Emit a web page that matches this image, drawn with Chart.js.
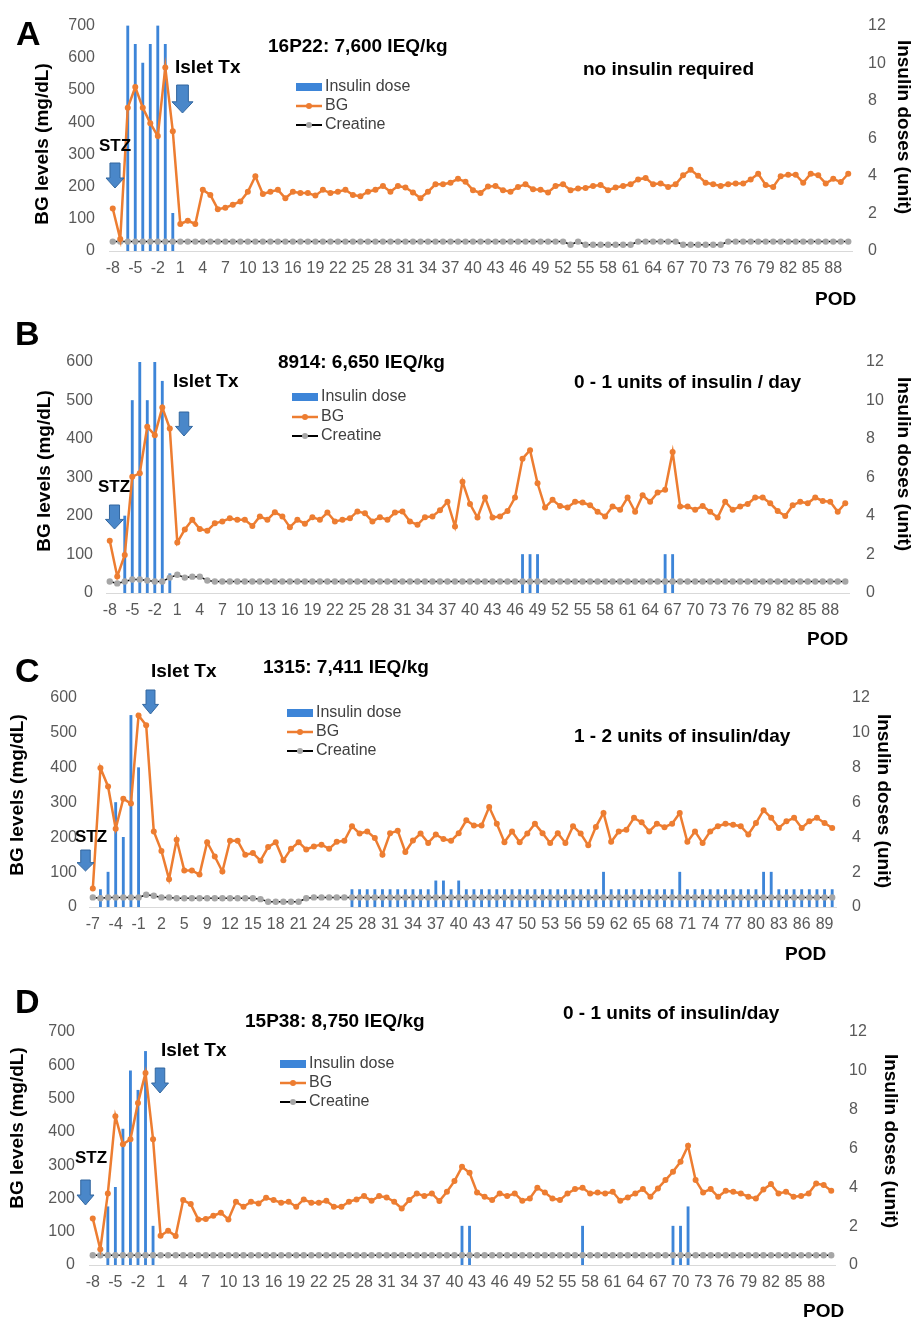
<!DOCTYPE html>
<html>
<head>
<meta charset="utf-8">
<script src="https://cdn.jsdelivr.net/npm/chart.js@4.4.1/dist/chart.umd.min.js"></script>
<style>
  html,body{margin:0;padding:0;background:#fff;}
  #wrap{position:relative;width:912px;height:1321px;overflow:hidden;}
  canvas{position:absolute;left:0;}
</style>
</head>
<body>
<div id="wrap">
  <canvas id="cA" width="912" height="320" style="top:0px"></canvas>
  <canvas id="cB" width="912" height="330" style="top:320px"></canvas>
  <canvas id="cC" width="912" height="325" style="top:650px"></canvas>
  <canvas id="cD" width="912" height="346" style="top:975px"></canvas>
</div>
<script>
// ---------- categories (post-operative day) ----------
const daysABD = [-8,-7,-6,-5,-4,-3,-2,-1,0,1,2,3,4,5,6,7,8,9,10,11,12,13,14,15,16,17,18,19,20,21,22,23,24,25,26,27,28,29,30,31,32,33,34,35,36,37,38,39,40,41,42,43,44,45,46,47,48,49,50,51,52,53,54,55,56,57,58,59,60,61,62,63,64,65,66,67,68,69,70,71,72,73,74,75,76,77,78,79,80,81,82,83,84,85,86,87,88,89,90];
const daysC = [-7,-6,-5,-4,-3,-2,-1,0,1,2,3,4,5,7,8,9,10,11,12,13,14,15,16,17,18,19,20,21,22,23,24,24,25,25,26,27,28,29,30,31,32,33,34,35,36,37,38,39,40,41,42,43,44,46,47,48,49,50,51,52,53,54,55,56,57,58,59,60,61,62,63,64,65,66,67,68,69,70,71,72,73,74,75,76,77,78,79,80,81,82,83,84,85,86,87,88,89,90];

// ---------- Panel A : 16P22 ----------
const bgA = [132,37,445,509,445,397,357,570,372,84,
  94,84,190,174,130,134,144,154,184,232,
  177,184,190,164,184,180,180,172,190,180,
  184,190,174,170,184,190,202,184,202,197,
  182,164,184,207,207,212,224,215,189,180,
  200,202,189,184,199,207,192,190,182,202,
  207,189,194,196,202,205,189,197,202,207,
  222,227,207,210,199,207,235,252,234,212,
  207,202,207,210,210,222,240,205,199,232,
  237,237,212,240,235,210,224,214,240];
const creA = [0.5,0.5,0.5,0.5,0.5,0.5,0.5,0.5,0.5,0.5,
  0.5,0.5,0.5,0.5,0.5,0.5,0.5,0.5,0.5,0.5,
  0.5,0.5,0.5,0.5,0.5,0.5,0.5,0.5,0.5,0.5,
  0.5,0.5,0.5,0.5,0.5,0.5,0.5,0.5,0.5,0.5,
  0.5,0.5,0.5,0.5,0.5,0.5,0.5,0.5,0.5,0.5,
  0.5,0.5,0.5,0.5,0.5,0.5,0.5,0.5,0.5,0.5,
  0.5,0.33,0.5,0.33,0.33,0.33,0.33,0.33,0.33,0.33,
  0.5,0.5,0.5,0.5,0.5,0.5,0.33,0.33,0.33,0.33,
  0.33,0.33,0.5,0.5,0.5,0.5,0.5,0.5,0.5,0.5,
  0.5,0.5,0.5,0.5,0.5,0.5,0.5,0.5,0.5];
const insDaysA = [-6,-5,-4,-3,-2,-1,0];
const insUnitsA = [12,11,10,11,12,11,2];

// ---------- Panel B : 8914 ----------
const bgB = [136,43,99,302,311,432,410,482,427,131,
  165,190,166,162,181,186,194,190,190,174,
  199,190,210,199,171,190,180,197,190,209,
  186,190,194,212,207,186,197,190,209,212,
  186,177,197,199,215,237,173,289,231,196,
  248,196,199,213,248,349,371,285,222,242,
  226,222,237,235,228,211,199,225,216,248,
  211,254,237,261,268,366,225,225,216,226,
  211,196,237,216,225,231,248,248,233,213,
  200,228,237,233,248,239,237,211,233];
const creB = [0.6,0.5,0.6,0.7,0.7,0.65,0.6,0.6,0.8,0.95,
  0.8,0.85,0.85,0.65,0.6,0.6,0.6,0.6,0.6,0.6,
  0.6,0.6,0.6,0.6,0.6,0.6,0.6,0.6,0.6,0.6,
  0.6,0.6,0.6,0.6,0.6,0.6,0.6,0.6,0.6,0.6,
  0.6,0.6,0.6,0.6,0.6,0.6,0.6,0.6,0.6,0.6,
  0.6,0.6,0.6,0.6,0.6,0.6,0.6,0.6,0.6,0.6,
  0.6,0.6,0.6,0.6,0.6,0.6,0.6,0.6,0.6,0.6,
  0.6,0.6,0.6,0.6,0.6,0.6,0.6,0.6,0.6,0.6,
  0.6,0.6,0.6,0.6,0.6,0.6,0.6,0.6,0.6,0.6,
  0.6,0.6,0.6,0.6,0.6,0.6,0.6,0.6,0.6];
const insDaysB = [-6,-5,-4,-3,-2,-1,0,47,48,49,66,67];
const insUnitsB = [4,10,12,10,12,11,1,2,2,2,2,2];

// ---------- Panel C : 1315 ----------
const bgC = [53,399,346,225,311,297,550,522,217,161,
  80,193,105,105,93,186,145,102,190,190,
  150,155,133,172,186,134,167,186,165,174,
  179,167,187,190,232,211,217,198,150,212,
  219,158,191,211,184,208,195,190,212,249,
  234,234,287,239,186,217,186,211,239,212,
  184,212,184,232,211,177,230,270,187,217,
  222,256,243,217,239,229,239,270,187,217,
  184,217,232,239,236,232,208,241,278,256,
  227,246,256,227,246,256,241,227];
const creC = [0.55,0.5,0.55,0.55,0.55,0.55,0.55,0.7,0.65,0.55,
  0.55,0.5,0.5,0.5,0.5,0.5,0.5,0.5,0.5,0.5,
  0.5,0.5,0.45,0.3,0.3,0.3,0.3,0.3,0.5,0.55,
  0.55,0.55,0.55,0.55,0.55,0.55,0.55,0.55,0.55,0.55,
  0.55,0.55,0.55,0.55,0.55,0.55,0.55,0.55,0.55,0.55,
  0.55,0.55,0.55,0.55,0.55,0.55,0.55,0.55,0.55,0.55,
  0.55,0.55,0.55,0.55,0.55,0.55,0.55,0.55,0.55,0.55,
  0.55,0.55,0.55,0.55,0.55,0.55,0.55,0.55,0.55,0.55,
  0.55,0.55,0.55,0.55,0.55,0.55,0.55,0.55,0.55,0.55,
  0.55,0.55,0.55,0.55,0.55,0.55,0.55,0.55];
const insC = [null,1,2,6,4,11,8,null,null,null,
  null,null,null,null,null,null,null,null,null,null,
  null,null,null,null,null,null,null,null,null,null,
  null,null,null,null,1,1,1,1,1,1,
  1,1,1,1,1,1.5,1.5,1,1.5,1,
  1,1,1,1,1,1,1,1,1,1,
  1,1,1,1,1,1,1,2,1,1,
  1,1,1,1,1,1,1,2,1,1,
  1,1,1,1,1,1,1,1,2,2,
  1,1,1,1,1,1,1,1];

// ---------- Panel D : 15P38 ----------
const bgD = [140,47,215,447,363,378,487,577,378,88,
  103,87,195,183,137,138,148,157,137,190,
  175,190,185,202,195,187,190,175,197,187,
  187,193,175,175,190,197,207,193,207,203,
  190,170,195,215,207,215,192,220,252,295,
  277,218,205,195,215,207,215,193,200,232,
  218,200,195,215,228,232,215,218,215,220,
  193,203,215,228,205,230,255,280,310,358,
  255,218,228,205,223,220,215,205,200,227,
  243,215,220,205,207,215,245,240,223];
const creD = [0.5,0.5,0.5,0.5,0.5,0.5,0.5,0.5,0.5,0.5,
  0.5,0.5,0.5,0.5,0.5,0.5,0.5,0.5,0.5,0.5,
  0.5,0.5,0.5,0.5,0.5,0.5,0.5,0.5,0.5,0.5,
  0.5,0.5,0.5,0.5,0.5,0.5,0.5,0.5,0.5,0.5,
  0.5,0.5,0.5,0.5,0.5,0.5,0.5,0.5,0.5,0.5,
  0.5,0.5,0.5,0.5,0.5,0.5,0.5,0.5,0.5,0.5,
  0.5,0.5,0.5,0.5,0.5,0.5,0.5,0.5,0.5,0.5,
  0.5,0.5,0.5,0.5,0.5,0.5,0.5,0.5,0.5,0.5,
  0.5,0.5,0.5,0.5,0.5,0.5,0.5,0.5,0.5,0.5,
  0.5,0.5,0.5,0.5,0.5,0.5,0.5,0.5,0.5];
const insDaysD = [-6,-5,-4,-3,-2,-1,0,41,42,57,69,70,71];
const insUnitsD = [3,4,7,10,9,11,2,2,2,2,2,2,3];

// ---------- axis ticks ----------
const bgTicksA = 700, bgTicksB = 600, bgTicksC = 600, bgTicksD = 700;
const insulinMax = 12;

// ---------- styling ----------
const FONT = '"Liberation Sans", Arial, Helvetica, sans-serif';
const ORANGE = '#ed7d31', BLUE = '#3d85d8', GRAYPT = '#a6a6a6', TICK = '#595959';

function sparse(days, dList, uList) {
  return days.map(d => { const k = dList.indexOf(d); return k >= 0 ? uList[k] : null; });
}

const annotations = {
  cA: { letter:{t:'A', x:16, y:45},
    texts:[{t:'16P22: 7,600 IEQ/kg', x:268, y:47, f:19},{t:'no insulin required', x:583, y:70, f:19},
           {t:'Islet Tx', x:175, y:68, f:19},{t:'STZ', x:99, y:146, f:17},{t:'POD', x:815, y:300, f:19}],
    arrows:[{x:115, y1:163, y2:188, w:18},{x:182.5, y1:85, y2:113, w:21}],
    legend:{x:296, ys:[87,106,125]}, lt:{x:43, y:144}, rt:{x:903, y:127} },
  cB: { letter:{t:'B', x:15, y:25},
    texts:[{t:'8914: 6,650 IEQ/kg', x:278, y:43, f:19},{t:'0 - 1 units of insulin / day', x:574, y:63, f:19},
           {t:'Islet Tx', x:173, y:62, f:19},{t:'STZ', x:98, y:167, f:17},{t:'POD', x:807, y:320, f:19}],
    arrows:[{x:114.5, y1:185, y2:209, w:18},{x:184, y1:92, y2:116, w:17}],
    legend:{x:292, ys:[77,97,116]}, lt:{x:45, y:151}, rt:{x:903, y:144} },
  cC: { letter:{t:'C', x:15, y:32},
    texts:[{t:'1315: 7,411 IEQ/kg', x:263, y:18, f:19},{t:'1 - 2 units of insulin/day', x:574, y:87, f:19},
           {t:'Islet Tx', x:151, y:22, f:19},{t:'STZ', x:75, y:187, f:17},{t:'POD', x:785, y:305, f:19}],
    arrows:[{x:150.5, y1:40, y2:64, w:16},{x:85.5, y1:200, y2:221, w:17}],
    legend:{x:287, ys:[63,82,101]}, lt:{x:18, y:145}, rt:{x:883, y:151} },
  cD: { letter:{t:'D', x:15, y:38},
    texts:[{t:'15P38: 8,750 IEQ/kg', x:245, y:47, f:19},{t:'0 - 1 units of insulin/day', x:563, y:39, f:19},
           {t:'Islet Tx', x:161, y:76, f:19},{t:'STZ', x:75, y:183, f:17},{t:'POD', x:803, y:337, f:19}],
    arrows:[{x:160, y1:93, y2:118, w:17},{x:85.5, y1:205, y2:230, w:17}],
    legend:{x:280, ys:[89,108,127]}, lt:{x:18, y:153}, rt:{x:890, y:166} }
};

const annotPlugin = {
  id: 'annot',
  afterDraw(chart) {
    const a = annotations[chart.canvas.id];
    if (!a) return;
    const ctx = chart.ctx;
    ctx.save();
    ctx.fillStyle = '#000';
    ctx.font = 'bold 34px ' + FONT;
    ctx.textAlign = 'left'; ctx.textBaseline = 'alphabetic';
    ctx.fillText(a.letter.t, a.letter.x, a.letter.y);
    ctx.textBaseline = 'middle';
    a.texts.forEach(t => {
      ctx.font = 'bold ' + t.f + 'px ' + FONT;
      ctx.fillStyle = '#000';
      ctx.fillText(t.t, t.x, t.y);
    });
    a.arrows.forEach(ar => {
      const hw = ar.w / 2, sw = ar.w * 0.28, ht = ar.y1 + (ar.y2 - ar.y1) * 0.6;
      ctx.beginPath();
      ctx.moveTo(ar.x - sw, ar.y1);
      ctx.lineTo(ar.x + sw, ar.y1);
      ctx.lineTo(ar.x + sw, ht);
      ctx.lineTo(ar.x + hw, ht);
      ctx.lineTo(ar.x, ar.y2);
      ctx.lineTo(ar.x - hw, ht);
      ctx.lineTo(ar.x - sw, ht);
      ctx.closePath();
      ctx.fillStyle = '#4a87c9';
      ctx.fill();
      ctx.strokeStyle = '#33679f';
      ctx.lineWidth = 1;
      ctx.stroke();
    });
    const lx = a.legend.x, ys = a.legend.ys;
    ctx.fillStyle = BLUE;
    ctx.fillRect(lx, ys[0] - 4, 26, 8);
    ctx.strokeStyle = ORANGE; ctx.lineWidth = 2.5;
    ctx.beginPath(); ctx.moveTo(lx, ys[1]); ctx.lineTo(lx + 26, ys[1]); ctx.stroke();
    ctx.fillStyle = ORANGE; ctx.beginPath(); ctx.arc(lx + 13, ys[1], 3, 0, Math.PI * 2); ctx.fill();
    ctx.strokeStyle = '#000'; ctx.lineWidth = 2;
    ctx.beginPath(); ctx.moveTo(lx, ys[2]); ctx.lineTo(lx + 26, ys[2]); ctx.stroke();
    ctx.fillStyle = GRAYPT; ctx.beginPath(); ctx.arc(lx + 13, ys[2], 3, 0, Math.PI * 2); ctx.fill();
    ctx.font = '16px ' + FONT; ctx.fillStyle = '#404040'; ctx.textAlign = 'left';
    ['Insulin dose', 'BG', 'Creatine'].forEach((s, i) => ctx.fillText(s, lx + 29, ys[i]));
    ctx.font = 'bold 19px ' + FONT; ctx.fillStyle = '#000'; ctx.textAlign = 'center';
    ctx.save(); ctx.translate(a.lt.x, a.lt.y); ctx.rotate(-Math.PI / 2); ctx.fillText('BG levels (mg/dL)', 0, 0); ctx.restore();
    ctx.save(); ctx.translate(a.rt.x, a.rt.y); ctx.rotate(Math.PI / 2); ctx.fillText('Insulin doses (unit)', 0, 0); ctx.restore();
    ctx.restore();
  }
};

function makePanel(id, days, bg, cre, ins, bgMax, area, H, lpad, rpad) {
  const tickFont = { family: FONT, size: 16 };
  new Chart(document.getElementById(id), {
    type: 'bar',
    data: {
      labels: days,
      datasets: [
        { type: 'line', label: 'BG', data: bg, yAxisID: 'y', borderColor: ORANGE, backgroundColor: ORANGE,
          borderWidth: 2.5, pointRadius: 3, pointBorderWidth: 0, pointBackgroundColor: ORANGE, tension: 0, order: 1 },
        { type: 'line', label: 'Creatine', data: cre, yAxisID: 'y1', borderColor: '#000', borderWidth: 1.5,
          pointRadius: 3.2, pointBorderWidth: 0, pointBackgroundColor: GRAYPT, tension: 0, order: 2 },
        { type: 'bar', label: 'Insulin dose', data: ins, yAxisID: 'y1', backgroundColor: BLUE,
          barThickness: 2.2, order: 3 }
      ]
    },
    options: {
      responsive: false, animation: false, devicePixelRatio: 1,
      events: [],
      layout: { padding: { top: area.top, bottom: 0, left: 0, right: 0 } },
      plugins: { legend: { display: false }, tooltip: { enabled: false } },
      scales: {
        x: {
          grid: { display: false, drawTicks: false },
          border: { display: true, color: '#d9d9d9', width: 1 },
          ticks: { autoSkip: false, maxRotation: 0, minRotation: 0, padding: 8, color: TICK, font: tickFont,
                   callback: (v, i) => (i % 3 === 0 ? String(days[i]) : '') },
          afterFit: s => { s.height = H - area.bottom; }
        },
        y: {
          position: 'left', min: 0, max: bgMax,
          grid: { display: false, drawTicks: false }, border: { display: false },
          ticks: { stepSize: 100, padding: lpad, color: TICK, font: tickFont },
          afterFit: s => { s.width = area.left; }
        },
        y1: {
          position: 'right', min: 0, max: insulinMax,
          grid: { display: false, drawTicks: false }, border: { display: false },
          ticks: { stepSize: 2, padding: rpad, color: TICK, font: tickFont },
          afterFit: s => { s.width = 912 - area.right; }
        }
      }
    },
    plugins: [annotPlugin]
  });
}

makePanel('cA', daysABD, bgA, creA, sparse(daysABD, insDaysA, insUnitsA), bgTicksA,
          { left: 109, right: 852, top: 18, bottom: 251 }, 320, 14, 16);
makePanel('cB', daysABD, bgB, creB, sparse(daysABD, insDaysB, insUnitsB), bgTicksB,
          { left: 106, right: 849, top: 42, bottom: 273 }, 330, 13, 17);
makePanel('cC', daysC, bgC, creC, insC, bgTicksC,
          { left: 89, right: 836, top: 48, bottom: 257 }, 325, 12, 16);
makePanel('cD', daysABD, bgD, creD, sparse(daysABD, insDaysD, insUnitsD), bgTicksD,
          { left: 89, right: 835, top: 57, bottom: 290 }, 346, 14, 14);
</script>
</body>
</html>
